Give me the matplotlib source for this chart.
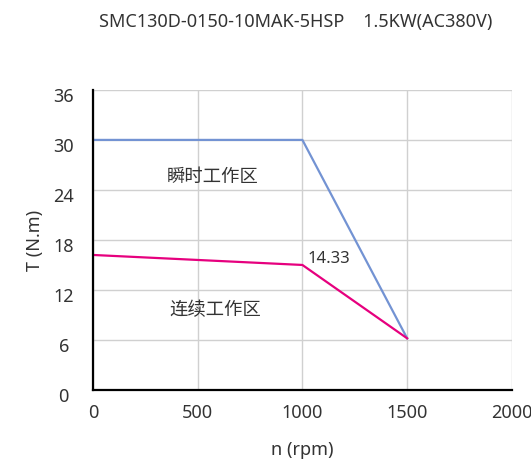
import matplotlib
matplotlib.use("Agg")
import matplotlib.pyplot as plt
from matplotlib.transforms import ScaledTranslation

plt.rcParams['font.family'] = ['Noto Sans', 'Noto Sans CJK SC', 'DejaVu Sans']

speed_peak = [0, 1000, 1500]
torque_peak = [30, 30, 6.2]
speed_cont = [0, 1000, 1500]
torque_cont = [16.2, 15.0, 6.2]
xticks = [0, 500, 1000, 1500, 2000]
yticks = [0, 6, 12, 18, 24, 30, 36]

fig = plt.figure(figsize=(5.31, 4.61), dpi=100)
ax = fig.add_axes([0.175, 0.154, 0.789, 0.651])
ax.plot(speed_peak, torque_peak, color='#7393D3', lw=1.6)
ax.plot(speed_cont, torque_cont, color='#E6007E', lw=1.6)
ax.set_xlim(0, 2000)
ax.set_ylim(0, 36)
ax.set_xticks(xticks)
ax.set_yticks(yticks)
ax.grid(True, color='#d0d0d0', lw=1)
ax.set_axisbelow(True)
for s in ['top', 'right']:
    ax.spines[s].set_visible(False)
ax.spines['left'].set_linewidth(1.6)
ax.spines['bottom'].set_linewidth(1.6)
ax.tick_params(length=0, labelsize=13, colors='#333333')
ax.tick_params(axis='x', pad=10)
ax.tick_params(axis='y', pad=21)
for lab in ax.get_yticklabels():
    lab.set_ha('center')
    lab.set_transform(lab.get_transform() + ScaledTranslation(0, -5/100, fig.dpi_scale_trans))
ax.set_xlabel('n (rpm)', fontsize=13, color='#333333', labelpad=14)
ax.set_ylabel('T (N.m)', fontsize=13, color='#333333', labelpad=7)

ax.text(573, 25.6, '瞬时工作区', fontsize=13.2, color='#333333', ha='center', va='center',
        family=['Noto Sans CJK SC', 'DejaVu Sans'])
ax.text(585, 9.6, '连续工作区', fontsize=13.2, color='#333333', ha='center', va='center',
        family=['Noto Sans CJK SC', 'DejaVu Sans'])
ax.text(1026, 15.7, '14.33', fontsize=12, color='#333333', ha='left', va='center')

fig.text(0.556, 0.952, 'SMC130D-0150-10MAK-5HSP    1.5KW(AC380V)', fontsize=13,
         color='#333333', ha='center', va='center')

fig.savefig('out.png', dpi=100)
